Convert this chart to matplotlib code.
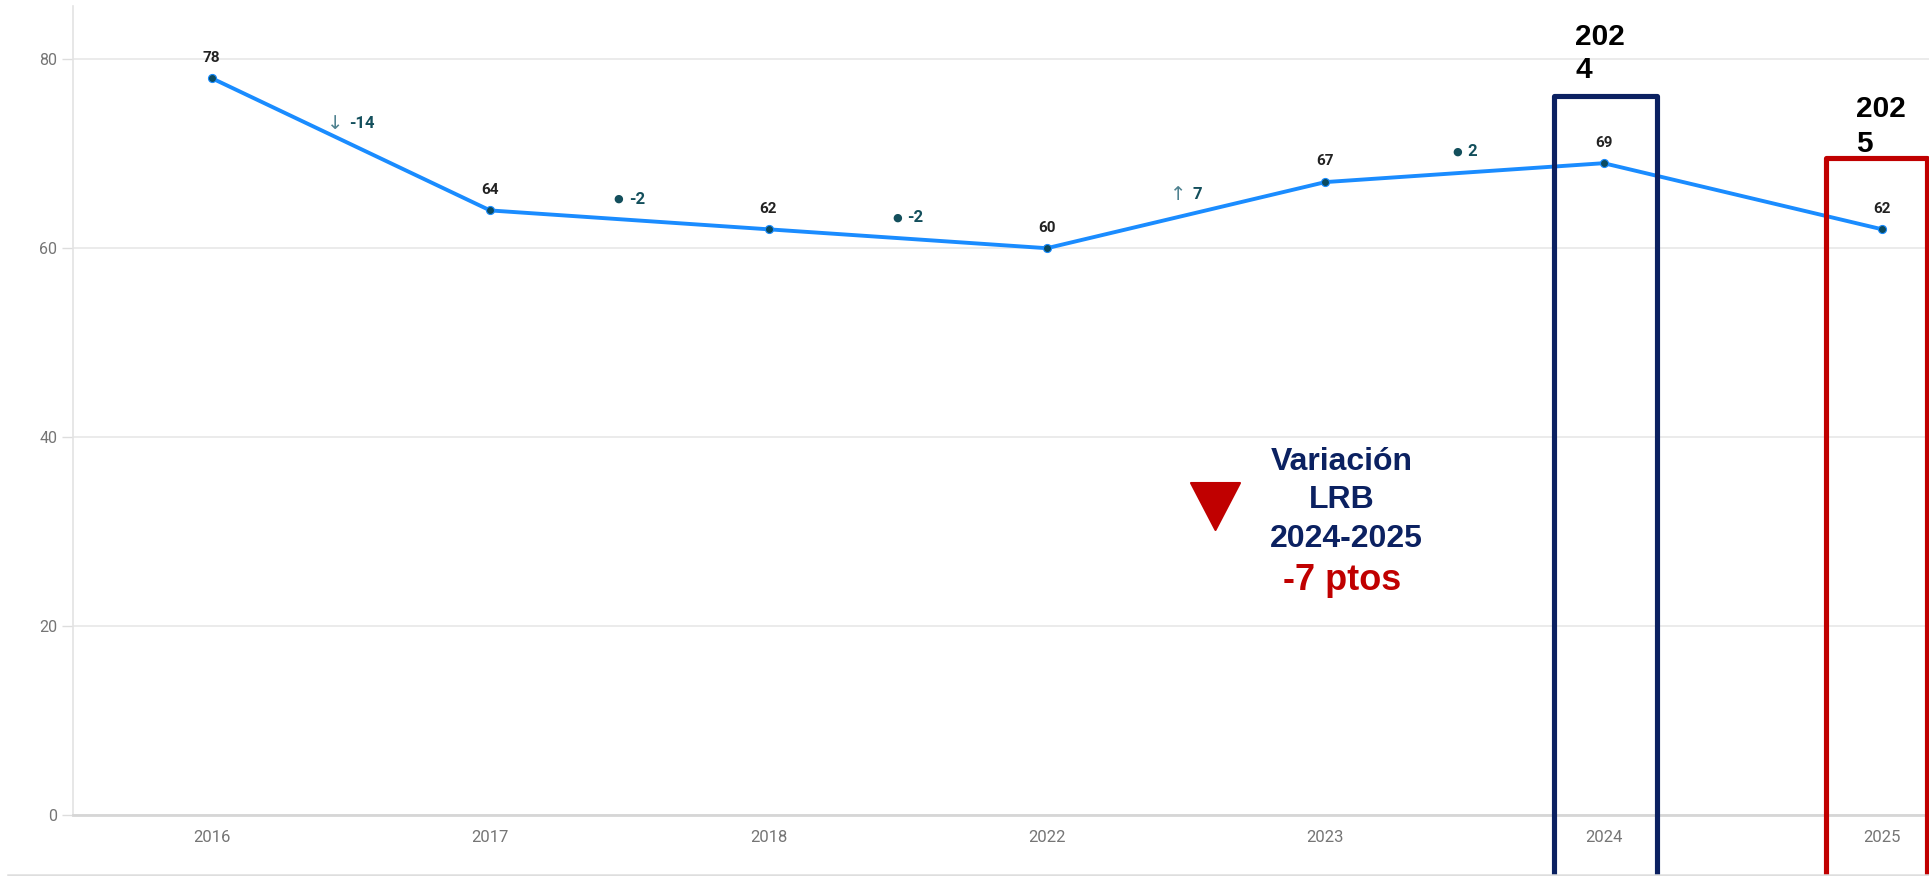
import matplotlib
matplotlib.use("Agg")
import matplotlib.pyplot as plt
from matplotlib.patches import Rectangle, Polygon
from matplotlib.lines import Line2D
from matplotlib.transforms import Affine2D
from matplotlib.offsetbox import TextArea, HPacker, AnnotationBbox

# ---------------- data ----------------
years = ['2016', '2017', '2018', '2022', '2023', '2024', '2025']
values = [78, 64, 62, 60, 67, 69, 62]
delta_symbols = ['↓', '●', '●', '↑', '●']
delta_values = ['-14', '-2', '-2', '7', '2']
y_ticks = [0, 20, 40, 60, 80]

# highlight boxes: (x0, x1, top) in data units
box_2024 = (4.82, 5.19, 76.1)
box_2025 = (5.80, 6.16, 69.5)

W, H = 1929, 876
fig = plt.figure(figsize=(W / 100, H / 100), dpi=100)
fig.patch.set_facecolor('white')

# pixel -> figure transform (y measured from top)
pix = Affine2D().scale(1 / W, -1 / H).translate(0, 1) + fig.transFigure

ax = fig.add_axes([72.5 / W, 61 / H, 1948.8 / W, 809 / H])
ax.set_xlim(-0.5, 6.5)
ax.set_ylim(0, 85.64)

x = list(range(len(years)))
ax.plot(x, values, color='#1a8cff', lw=2.8, zorder=3, solid_capstyle='round',
        solid_joinstyle='round')
ax.plot(x, values, linestyle='none', marker='o', ms=5.8, mfc='#0b4a5f',
        mec='#1a8cff', mew=0.8, zorder=4)

# grid & spines
ax.set_yticks(y_ticks)
ax.set_xticks(x)
ax.set_xticklabels(years)
ax.grid(axis='y', color='#e8e8e8', lw=1.2, zorder=0)
ax.grid(axis='x', visible=False)
for s in ['top', 'right']:
    ax.spines[s].set_visible(False)
ax.spines['left'].set_color('#e3e3e3')
ax.spines['left'].set_linewidth(1.2)
ax.spines['bottom'].set_color('#d6d6d6')
ax.spines['bottom'].set_linewidth(2.0)
ax.tick_params(axis='y', length=8, width=1.0, color='#dddddd', pad=3,
               labelsize=11.5, labelcolor='#757575')
ax.tick_params(axis='x', length=0, pad=11, labelsize=12, labelcolor='#757575')
for lab in ax.get_xticklabels() + ax.get_yticklabels():
    lab.set_family(['Roboto', 'DejaVu Sans'])

# data labels
for i, v in enumerate(values):
    ax.annotate(str(v), (i, v), xytext=(0, 12), textcoords='offset points',
                ha='center', va='baseline', fontsize=11, fontweight='bold',
                color='#222222', family=['Roboto', 'DejaVu Sans'], zorder=5)

# delta labels (symbol + number, different styles)
for i, (sym, d) in enumerate(zip(delta_symbols, delta_values)):
    mid = (values[i] + values[i + 1]) / 2
    if sym == '●':
        sym_props = dict(fontsize=8, color='#134f5c', family='DejaVu Sans')
    else:
        sym_props = dict(fontsize=14, color='#4f8290', family='DejaVu Sans')
    num_props = dict(fontsize=12, fontweight='bold', color='#134f5c',
                     family=['Roboto', 'DejaVu Sans'])
    pack = HPacker(children=[TextArea(sym, textprops=sym_props),
                             TextArea(d, textprops=num_props)],
                   sep=4, pad=0, align='center')
    ab = AnnotationBbox(pack, (i + 0.5, mid), xybox=(0, 15),
                        boxcoords='offset points', frameon=False,
                        box_alignment=(0.5, 0.5), zorder=5)
    ax.add_artist(ab)

# highlight boxes
for (x0, x1, top), col in [(box_2024, '#0b2161'), (box_2025, '#c00000')]:
    r = Rectangle((x0, -6.6), x1 - x0, top + 6.6, fill=False, edgecolor=col,
                  lw=3.7, clip_on=False, zorder=6, joinstyle='round')
    ax.add_patch(r)

# box labels
for txt, xx, yy in [('202', 1575, 45), ('4', 1575, 78),
                    ('202', 1856, 116.7), ('5', 1856, 151.7)]:
    fig.text(xx, yy, txt, transform=pix, ha='left', va='baseline',
             fontsize=21.5, fontweight='bold', color='black',
             family='Liberation Sans')

# variation annotation
tri = Polygon([(1191, 483), (1240, 483), (1215.5, 530)], closed=True,
              transform=pix, facecolor='#c00000', edgecolor='#c00000',
              lw=1.5, joinstyle='round')
fig.add_artist(tri)
for txt, xx, yy, col, fs in [('Variación', 1341.5, 470, '#0b2161', 23),
                             ('LRB', 1341.5, 507.5, '#0b2161', 23),
                             ('2024-2025', 1346, 546.7, '#0b2161', 23),
                             ('-7 ptos', 1341.7, 590, '#c00000', 26)]:
    fig.text(xx, yy, txt, transform=pix, ha='center', va='baseline',
             fontsize=fs, fontweight='bold', color=col, family='Liberation Sans')

# bottom border line
fig.add_artist(Line2D([8, W], [874.5, 874.5], transform=pix, color='#dedede',
                      lw=1.8, zorder=1))

fig.savefig('out.png', dpi=100, facecolor='white')
